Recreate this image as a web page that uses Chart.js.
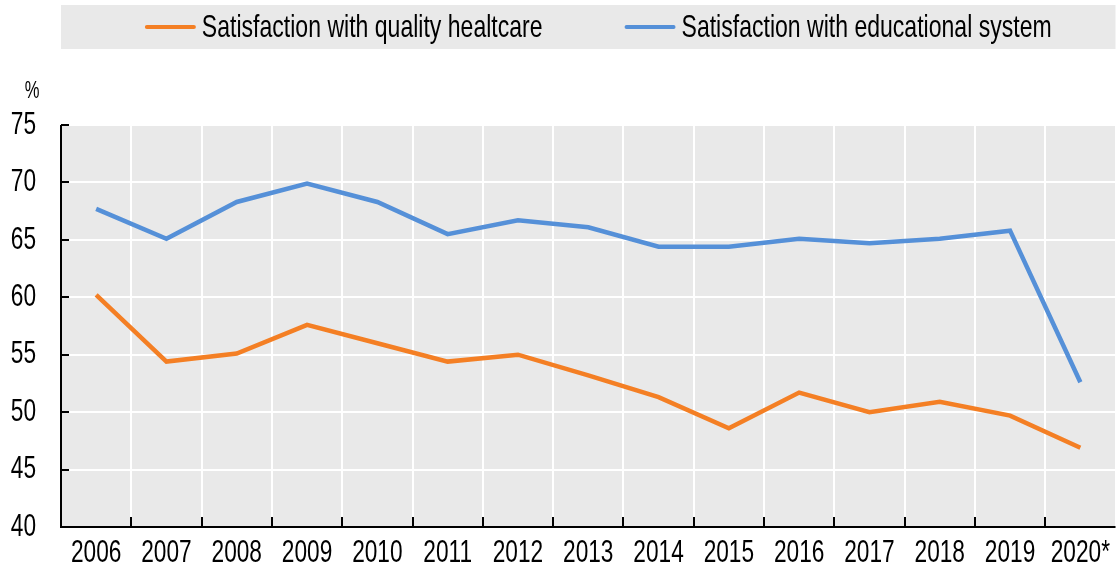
<!DOCTYPE html>
<html>
<head>
<meta charset="utf-8">
<script src="https://cdn.jsdelivr.net/npm/chart.js@4"></script>
<style>
  body { margin: 0; background: #fff; }
</style>
</head>
<body>
<canvas id="chart" width="1117" height="573"></canvas>
<script>
const years = ["2006", "2007", "2008", "2009", "2010", "2011", "2012", "2013", "2014", "2015", "2016", "2017", "2018", "2019", "2020*"];
const healthcare = [60.2, 54.4, 55.1, 57.6, 56.0, 54.4, 55.0, 53.2, 51.3, 48.6, 51.7, 50.0, 50.9, 49.7, 46.9];
const education = [67.7, 65.1, 68.3, 69.9, 68.3, 65.5, 66.7, 66.1, 64.4, 64.4, 65.1, 64.7, 65.1, 65.8, 52.6];
const yTicks = [40, 45, 50, 55, 60, 65, 70, 75];

const FONT = "'Liberation Sans', Arial, sans-serif";
const NARROW = 0.72; // the original uses a very condensed face, so squeeze text horizontally
const ORANGE = '#f47f24';
const BLUE = '#5590d8';

const canvas = document.getElementById('chart');
const ctx2d = canvas.getContext('2d');
const origFill = ctx2d.fillText.bind(ctx2d);
const origMeasure = ctx2d.measureText.bind(ctx2d);
ctx2d.fillText = function (text, x, y, maxWidth) {
    this.save();
    this.translate(x, y);
    this.scale(NARROW, 1);
    origFill(text, 0, 0);
    this.restore();
};
ctx2d.measureText = function (text) {
    const m = origMeasure(text);
    return { width: m.width * NARROW, actualBoundingBoxAscent: m.actualBoundingBoxAscent, actualBoundingBoxDescent: m.actualBoundingBoxDescent };
};

// grey plot background, axis lines, inward tick marks, % unit and legend band
const decor = {
    id: 'decor',
    beforeDraw(chart) {
        const { ctx, chartArea: a } = chart;
        ctx.save();
        ctx.fillStyle = '#e9e9e9';
        ctx.fillRect(a.left, a.top, a.right - a.left, a.bottom - a.top);
        ctx.restore();
    },
    afterDraw(chart) {
        const { ctx, chartArea: a, scales } = chart;
        ctx.save();
        ctx.strokeStyle = '#000';
        ctx.lineWidth = 2;
        ctx.beginPath();
        ctx.moveTo(a.left, a.top);
        ctx.lineTo(a.left, a.bottom);
        ctx.lineTo(a.right, a.bottom);
        ctx.stroke();
        yTicks.forEach(v => {
            const y = Math.round(scales.y.getPixelForValue(v));
            ctx.beginPath();
            ctx.moveTo(a.left, y);
            ctx.lineTo(a.left + 8, y);
            ctx.stroke();
        });
        for (let i = 1; i < years.length; i++) {
            const x = Math.round((scales.x.getPixelForValue(i - 1) + scales.x.getPixelForValue(i)) / 2);
            ctx.beginPath();
            ctx.moveTo(x, a.bottom);
            ctx.lineTo(x, a.bottom - 10);
            ctx.stroke();
        }
        ctx.fillStyle = '#000';
        ctx.font = '23px ' + FONT;
        ctx.textAlign = 'center';
        ctx.textBaseline = 'middle';
        ctx.fillText('%', 32, 92);

        // legend
        ctx.fillStyle = '#e9e9e9';
        ctx.fillRect(a.left, 5, a.right - a.left, 44);
        ctx.font = '32px ' + FONT;
        ctx.textAlign = 'left';
        const gap = 82, line = 51, space = 6;
        const items = chart.data.datasets.map(ds => ({ ds, w: line + space + ctx.measureText(ds.label).width }));
        const total = items.reduce((s, it) => s + it.w, 0) + gap * (items.length - 1);
        let x = (a.left + a.right) / 2 + 10 - total / 2;
        items.forEach(it => {
            ctx.strokeStyle = it.ds.borderColor;
            ctx.lineWidth = 4;
            ctx.lineCap = 'round';
            ctx.beginPath();
            ctx.moveTo(x + 2, 27);
            ctx.lineTo(x + line - 2, 27);
            ctx.stroke();
            ctx.fillStyle = '#000';
            ctx.fillText(it.ds.label, x + line + space, 28);
            x += it.w + gap;
        });
        ctx.restore();
    }
};

const chart = new Chart(canvas, {
    type: 'line',
    data: {
        labels: years,
        datasets: [
            {
                label: 'Satisfaction with quality healtcare',
                data: healthcare,
                borderColor: ORANGE,
                backgroundColor: ORANGE,
                borderWidth: 4.5,
                pointRadius: 0,
                tension: 0
            },
            {
                label: 'Satisfaction with educational system',
                data: education,
                borderColor: BLUE,
                backgroundColor: BLUE,
                borderWidth: 4.5,
                pointRadius: 0,
                tension: 0
            }
        ]
    },
    options: {
        responsive: false,
        animation: false,
        layout: { padding: { top: 125, right: 0, bottom: 0, left: 0 } },
        plugins: { legend: { display: false }, tooltip: { enabled: false } },
        scales: {
            x: {
                offset: true,
                afterFit: s => { s.height = 46; },
                grid: { offset: true, color: '#ffffff', lineWidth: 2, drawTicks: false },
                border: { display: false },
                ticks: { color: '#000', font: { family: FONT, size: 31.5 }, padding: 7, maxRotation: 0, autoSkip: false }
            },
            y: {
                min: 40,
                max: 75,
                afterFit: s => { s.width = 61; },
                afterBuildTicks: s => { s.ticks = yTicks.map(v => ({ value: v })); },
                grid: { color: '#ffffff', lineWidth: 2, drawTicks: false },
                border: { display: false },
                ticks: { color: '#000', font: { family: FONT, size: 31.5 }, padding: 25 }
            }
        }
    },
    plugins: [decor]
});
</script>
</body>
</html>
